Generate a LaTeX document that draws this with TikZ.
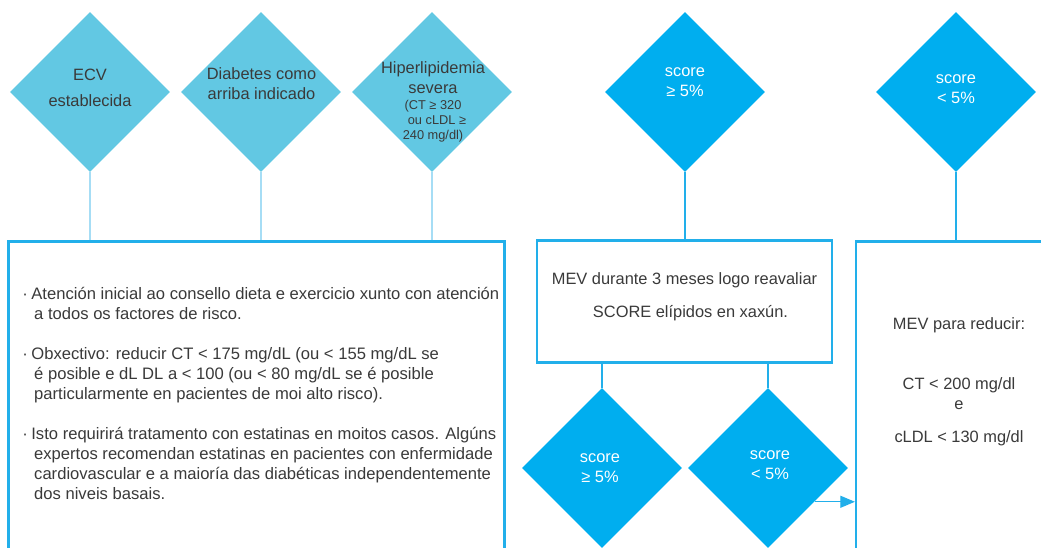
\documentclass[tikz,border=0pt]{standalone}
\usepackage{fontspec}
\setmainfont{Liberation Sans}
\usepackage{xcolor}
\definecolor{riscoCian}{HTML}{00AEEF}
\definecolor{riscoCianSuave}{HTML}{62C8E3}
\definecolor{riscoCianLinha}{HTML}{22AFEA}
\definecolor{riscoCianPalido}{HTML}{A6DDF5}
\definecolor{riscoTexto}{HTML}{3A3A3A}
\usetikzlibrary{arrows.meta, shapes.geometric}
\newcommand{\TextoBase}{\fontsize{12.3}{15}\selectfont}
\newcommand{\TextoNota}{\fontsize{9.6}{12}\selectfont}
\tikzset{
  %% ── Decisions ────────────────────────────────────────────────────────
  %% The pale ones are the entry conditions, the strong ones the SCORE test.
  losango/.style      = {diamond, aspect=1, inner sep=0pt, minimum width=120pt,
                         minimum height=120pt, fill=riscoCianSuave},
  losangoVivo/.style  = {losango, fill=riscoCian},
  %%
  %% ── Boxes ────────────────────────────────────────────────────────────
  caixa/.style        = {draw=riscoCianLinha, line width=1.6pt, fill=white},
  %%
  %% ── Connectors ───────────────────────────────────────────────────────
  ligazon/.style      = {draw=riscoCianPalido, line width=1.5pt},
  ligazonViva/.style  = {draw=riscoCianLinha, line width=1pt},
  frecha/.style       = {ligazonViva, -{Triangle[length=11pt, width=9pt]}},
  %%
  %% ── Text ─────────────────────────────────────────────────────────────
  %% Multi-line texts are placed by the baseline of their last line.
  rotulo/.style       = {font=\TextoBase, text=riscoTexto, align=center,
                         inner sep=0pt, anchor=base},
  rotuloBranco/.style = {rotulo, text=white},
}

\begin{document}
\begin{tikzpicture}[x=0.75pt, y=-0.75pt]
\useasboundingbox (0,0) rectangle (1041,548);
\clip (0,0) rectangle (1041,548);

%% entry conditions
\node[losango] (ecv)        at (90,92)  {};
\node[losango] (diabetes)   at (261,92) {};
\node[losango] (hiperlip)   at (432,92) {};
\node[losangoVivo] (scoreAlto)  at (685,92) {};
\node[losangoVivo] (scoreBaixo) at (956,92) {};

%% boxes, open at the bottom of the page
\node[caixa, minimum width=372pt, minimum height=300pt] (obxectivo)  at (256.5,441.5) {};
\node[caixa, minimum width=221.25pt, minimum height=91.5pt] (mevTres) at (684.5,301.5) {};
\node[caixa, minimum width=153pt, minimum height=300pt] (mevReducir) at (958,441.5) {};

%% second SCORE test
\node[losangoVivo] (reScoreAlto)  at (602,468) {};
\node[losangoVivo] (reScoreBaixo) at (768,468) {};

%% connectors
\draw[ligazon] (ecv.south) -- (ecv.south |- obxectivo.north);
\draw[ligazon] (diabetes.south) -- (diabetes.south |- obxectivo.north);
\draw[ligazon] (hiperlip.south) -- (hiperlip.south |- obxectivo.north);
\draw[ligazonViva] (scoreAlto.south) -- (scoreAlto.south |- mevTres.north);
\draw[ligazonViva] (scoreBaixo.south) -- (scoreBaixo.south |- mevReducir.north);
\draw[ligazonViva] (mevTres.south -| reScoreAlto.north) -- (reScoreAlto.north);
\draw[ligazonViva] (mevTres.south -| reScoreBaixo.north) -- (reScoreBaixo.north);
\draw[frecha] (reScoreBaixo.-36) -- (reScoreBaixo.-36 -| mevReducir.west);

%% texts of the decisions
\node[rotulo] (ecvTxt) at (90,106.7) {ECV\\[5pt]establecida};
\node[rotulo] (diabetesTxt) at (261.5,100) {Diabetes como\\arriba indicado};
\node[rotulo] (hiperlipTxt) at (433,139.5)
  {Hiperlipidemia\\severa\\[-3pt]\TextoNota (CT ≥ 320\\[-3.5pt]\TextoNota\hspace*{6pt}ou cLDL ≥\\[-3.75pt]\TextoNota 240 mg/dl)};
\node[rotuloBranco] (scoreAltoTxt) at (685,96.5) {score\\≥ 5\%};
\node[rotuloBranco] (scoreBaixoTxt) at (956,103.3) {score\\< 5\%};
\node[rotuloBranco] (reScoreAltoTxt) at (600,482.3) {score\\≥ 5\%};
\node[rotuloBranco] (reScoreBaixoTxt) at (770,479.3) {score\\< 5\%};

%% texts of the boxes
\node[rotulo, align=left, anchor=base west, font=\fontsize{12.45}{15}\selectfont]
  (obxectivoTxt) at (22,499)
  {\makebox[0.55em][l]{·}Atención inicial ao consello dieta e exercicio xunto con atención\\
   \hspace*{0.72em}a todos os factores de risco.\\[15pt]
   \makebox[0.55em][l]{·}Obxectivo: reducir CT < 175 mg/dL (ou < 155 mg/dL se\\
   \hspace*{0.72em}é posible e dL DL a < 100 (ou < 80 mg/dL se é posible\\
   \hspace*{0.72em}particularmente en pacientes de moi alto risco).\\[15pt]
   \makebox[0.55em][l]{·}Isto requirirá tratamento con estatinas en moitos casos. Algúns\\
   \hspace*{0.72em}expertos recomendan estatinas en pacientes con enfermidade\\
   \hspace*{0.72em}cardiovascular e a maioría das diabéticas independentemente\\
   \hspace*{0.72em}dos niveis basais.};
\node[rotulo] (mevTresTxt) at (684.5,317.3)
  {MEV durante 3 meses logo reavaliar\\[9.75pt]\hspace*{9pt}SCORE elípidos en xaxún.};
\node[rotulo] (mevReducirTxt) at (959,442)
  {MEV para reducir:\\[30pt]CT < 200 mg/dl\\e\\[9.75pt]cLDL < 130 mg/dl};

\end{tikzpicture}
\end{document}
